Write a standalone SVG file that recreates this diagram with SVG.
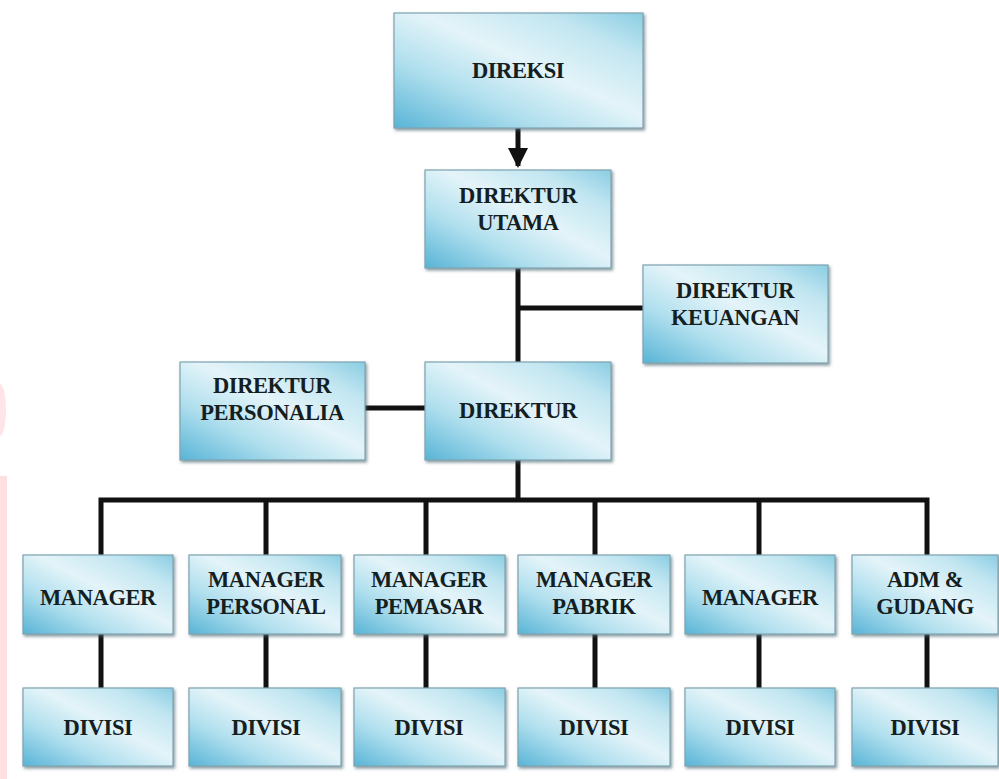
<svg xmlns="http://www.w3.org/2000/svg" width="999" height="779" viewBox="0 0 999 779">
<defs>
<linearGradient id="g" x1="0" y1="1" x2="1" y2="0">
<stop offset="0" stop-color="#58b4d6"/>
<stop offset="0.3" stop-color="#b0dfee"/>
<stop offset="0.55" stop-color="#e4f4f9"/>
<stop offset="0.8" stop-color="#c2e6f1"/>
<stop offset="1" stop-color="#8acde3"/>
</linearGradient>
<filter id="sh" x="-10%" y="-10%" width="120%" height="130%">
<feDropShadow dx="1.5" dy="2" stdDeviation="1.5" flood-color="#4a6670" flood-opacity="0.65"/>
</filter>
<marker id="ah" viewBox="0 0 10 10" refX="9" refY="5" markerWidth="4" markerHeight="4" orient="auto">
<path d="M0,0 L10,5 L0,10 z" fill="#111"/>
</marker>
</defs>
<style>
.box{fill:url(#g);stroke:#7fa3b0;stroke-width:1.2;filter:url(#sh)}
.t{font-weight:bold;font-size:22.5px;fill:#14201f;text-anchor:middle;letter-spacing:-0.4px}
.c{stroke:#111;stroke-width:5;fill:none}
</style>
<rect width="999" height="779" fill="#ffffff"/>
<ellipse cx="0" cy="410" rx="6" ry="26" fill="#ffe5e7"/>
<rect x="0" y="476" width="7" height="303" fill="#ffe0e2"/>
<g id="connectors">
<line class="c" x1="518" y1="128" x2="518" y2="166" marker-end="url(#ah)"/>
<line class="c" x1="518" y1="268" x2="518" y2="362"/>
<line class="c" x1="518" y1="308" x2="643" y2="308"/>
<line class="c" x1="364" y1="408" x2="425" y2="408"/>
<line class="c" x1="518" y1="460" x2="518" y2="500"/>
<polyline class="c" points="101,556 101,500 927,500 927,556"/>
<line class="c" x1="266" y1="500" x2="266" y2="556"/>
<line class="c" x1="426" y1="500" x2="426" y2="556"/>
<line class="c" x1="595" y1="500" x2="595" y2="556"/>
<line class="c" x1="759" y1="500" x2="759" y2="556"/>
<line class="c" x1="101" y1="634" x2="101" y2="688"/>
<line class="c" x1="266" y1="634" x2="266" y2="688"/>
<line class="c" x1="426" y1="634" x2="426" y2="688"/>
<line class="c" x1="595" y1="634" x2="595" y2="688"/>
<line class="c" x1="759" y1="634" x2="759" y2="688"/>
<line class="c" x1="927" y1="634" x2="927" y2="688"/>
</g>
<g font-family="Liberation Serif, DejaVu Serif, serif">
<g id="direksi"><rect class="box" x="394" y="13" width="249" height="115"/><text class="t" x="518" y="78">DIREKSI</text></g>
<g id="direktur-utama"><rect class="box" x="425" y="170" width="186" height="98"/><text class="t" x="518" y="203">DIREKTUR</text><text class="t" x="518" y="230">UTAMA</text></g>
<g id="direktur-keuangan"><rect class="box" x="643" y="265" width="185" height="98"/><text class="t" x="735" y="298">DIREKTUR</text><text class="t" x="735" y="325">KEUANGAN</text></g>
<g id="direktur-personalia"><rect class="box" x="180" y="362" width="185" height="98"/><text class="t" x="272" y="393">DIREKTUR</text><text class="t" x="272" y="420">PERSONALIA</text></g>
<g id="direktur"><rect class="box" x="425" y="362" width="186" height="98"/><text class="t" x="518" y="418">DIREKTUR</text></g>
<g id="manager-1"><rect class="box" x="23" y="555" width="150" height="79"/><text class="t" x="98" y="605">MANAGER</text></g>
<g id="manager-personal"><rect class="box" x="189" y="555" width="152" height="79"/><text class="t" x="266" y="587">MANAGER</text><text class="t" x="266" y="614">PERSONAL</text></g>
<g id="manager-pemasar"><rect class="box" x="354" y="555" width="151" height="79"/><text class="t" x="429" y="587">MANAGER</text><text class="t" x="429" y="614">PEMASAR</text></g>
<g id="manager-pabrik"><rect class="box" x="518" y="555" width="152" height="79"/><text class="t" x="594" y="587">MANAGER</text><text class="t" x="594" y="614">PABRIK</text></g>
<g id="manager-2"><rect class="box" x="685" y="555" width="150" height="79"/><text class="t" x="760" y="605">MANAGER</text></g>
<g id="adm-gudang"><rect class="box" x="852" y="555" width="146" height="79"/><text class="t" x="925" y="587">ADM &amp;</text><text class="t" x="925" y="614">GUDANG</text></g>
<g id="divisi-1"><rect class="box" x="23" y="688" width="150" height="78"/><text class="t" x="98" y="735">DIVISI</text></g>
<g id="divisi-2"><rect class="box" x="189" y="688" width="152" height="78"/><text class="t" x="266" y="735">DIVISI</text></g>
<g id="divisi-3"><rect class="box" x="354" y="688" width="151" height="78"/><text class="t" x="429" y="735">DIVISI</text></g>
<g id="divisi-4"><rect class="box" x="518" y="688" width="152" height="78"/><text class="t" x="594" y="735">DIVISI</text></g>
<g id="divisi-5"><rect class="box" x="685" y="688" width="150" height="78"/><text class="t" x="760" y="735">DIVISI</text></g>
<g id="divisi-6"><rect class="box" x="852" y="688" width="146" height="78"/><text class="t" x="925" y="735">DIVISI</text></g>
</g>
</svg>
